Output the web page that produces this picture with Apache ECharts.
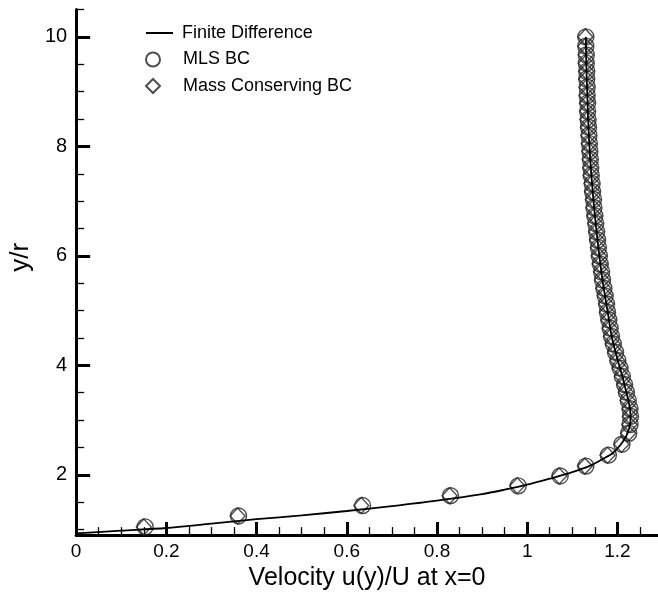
<!DOCTYPE html>
<html>
<head>
<meta charset="utf-8">
<script src="https://cdn.jsdelivr.net/npm/echarts@6/dist/echarts.min.js"></script>
<style>
html,body{margin:0;padding:0;background:#fff;}
#chart{width:658px;height:596px;}
</style>
</head>
<body>
<div id="chart"></div>
<script>
// Finite Difference curve (x = u/U, y = y/r)
var fdX = [0.0, 0.1, 0.2, 0.3, 0.4, 0.5, 0.6, 0.7, 0.8, 0.9, 0.95, 1.0, 1.05, 1.1, 1.14, 1.17, 1.19, 1.207, 1.219, 1.226, 1.229, 1.228, 1.223, 1.217, 1.211, 1.204, 1.188, 1.178, 1.168, 1.16, 1.153, 1.147, 1.142, 1.138, 1.135, 1.133, 1.131, 1.13];
var fdY = [0.93, 0.98, 1.03, 1.11, 1.19, 1.26, 1.34, 1.43, 1.53, 1.65, 1.73, 1.82, 1.93, 2.05, 2.17, 2.3, 2.4, 2.55, 2.7, 2.85, 3.0, 3.2, 3.4, 3.6, 3.8, 4.0, 4.5, 5.0, 5.5, 6.0, 6.5, 7.0, 7.5, 8.0, 8.5, 9.0, 9.5, 10.0];

// MLS BC markers
var mlsX = [0.153, 0.36, 0.635, 0.83, 0.98, 1.073, 1.13, 1.18, 1.21, 1.225,
  1.228, 1.229, 1.228, 1.224, 1.220, 1.216, 1.211, 1.206, 1.201, 1.196,
  1.191, 1.187, 1.184, 1.181, 1.178, 1.176, 1.173, 1.170, 1.167, 1.165,
  1.162, 1.160, 1.158, 1.156, 1.154, 1.152, 1.150, 1.148, 1.147, 1.145,
  1.144, 1.142, 1.141, 1.140, 1.139, 1.138, 1.137, 1.136, 1.135, 1.134,
  1.134, 1.133, 1.133, 1.132, 1.132, 1.131, 1.131, 1.130, 1.130];
var mlsY = [1.05, 1.25, 1.44, 1.62, 1.80, 1.98, 2.16, 2.36, 2.56, 2.76,
  2.92, 3.07, 3.21, 3.36, 3.51, 3.65, 3.80, 3.95, 4.09, 4.24,
  4.39, 4.53, 4.68, 4.83, 4.97, 5.12, 5.27, 5.41, 5.56, 5.71,
  5.85, 6.00, 6.15, 6.29, 6.44, 6.59, 6.73, 6.88, 7.03, 7.17,
  7.32, 7.47, 7.61, 7.76, 7.91, 8.05, 8.20, 8.35, 8.49, 8.64,
  8.79, 8.93, 9.08, 9.23, 9.37, 9.52, 9.67, 9.83, 10.0];

// Mass Conserving BC markers
var mcX = [0.150, 0.358, 0.632, 0.828, 0.978, 1.071, 1.128, 1.178, 1.209, 1.224,
  1.227, 1.228, 1.227, 1.223, 1.219, 1.215, 1.210, 1.205, 1.200, 1.195,
  1.190, 1.186, 1.183, 1.180, 1.177, 1.175, 1.172, 1.169, 1.166, 1.164,
  1.161, 1.159, 1.157, 1.155, 1.153, 1.151, 1.149, 1.147, 1.146, 1.144,
  1.143, 1.141, 1.140, 1.139, 1.138, 1.137, 1.136, 1.135, 1.134, 1.133,
  1.133, 1.132, 1.132, 1.131, 1.131, 1.130, 1.130, 1.129, 1.129];
var mcY = mlsY.slice();

// Axis ticks and labels
var xMajor = [0, 0.2, 0.4, 0.6, 0.8, 1, 1.2];
var xMinor = [0.05, 0.1, 0.15, 0.25, 0.3, 0.35, 0.45, 0.5, 0.55, 0.65, 0.7, 0.75, 0.85, 0.9, 0.95, 1.05, 1.1, 1.15, 1.25];
var yMajor = [2, 4, 6, 8, 10];
var yMinor = [1, 1.5, 2.5, 3, 3.5, 4.5, 5, 5.5, 6.5, 7, 7.5, 8.5, 9, 9.5, 10.5];

function zip(a, b) { var r = []; for (var i = 0; i < a.length; i++) r.push([a[i], b[i]]); return r; }

var FONT = 'Liberation Sans, Arial, sans-serif';
var XMIN = 0, XMAX = 1.29, YMIN = 0.9, YMAX = 10.5;
var legendText = {fontFamily: FONT, fontSize: 18, color: '#000'};

var chart = echarts.init(document.getElementById('chart'), null, {renderer: 'canvas'});
chart.setOption({
  animation: false,
  backgroundColor: '#fff',
  grid: {left: 76, right: 0, top: 9.5, bottom: 52, containLabel: false},
  legend: [{
    orient: 'vertical', left: 141, top: 19, itemWidth: 27, itemHeight: 14,
    textStyle: Object.assign({padding: [0, 0, 0, 4]}, legendText),
    data: [{name: 'Finite Difference', icon: 'path://M0,0h27v2h-27z'}]
  }, {
    orient: 'vertical', left: 140, top: 45.5, itemWidth: 14, itemHeight: 14,
    textStyle: Object.assign({padding: [0, 0, 0, 18]}, legendText),
    data: ['MLS BC']
  }, {
    orient: 'vertical', left: 140, top: 72, itemWidth: 14, itemHeight: 14,
    textStyle: Object.assign({padding: [0, 0, 0, 18]}, legendText),
    data: ['Mass Conserving BC']
  }],
  xAxis: [{
    type: 'value', position: 'bottom', min: XMIN, max: XMAX,
    name: 'Velocity u(y)/U at x=0', nameLocation: 'middle', nameGap: 22,
    nameTextStyle: {fontFamily: FONT, fontSize: 25, color: '#000'},
    axisLine: {show: true, lineStyle: {color: '#000', width: 3}},
    axisTick: {show: true, inside: true, length: 13, lineStyle: {color: '#000', width: 3}, customValues: xMajor},
    axisLabel: {show: true, margin: 7, fontFamily: FONT, fontSize: 19, color: '#000', customValues: xMajor,
      formatter: function (v) { return String(v); }},
    splitLine: {show: false}
  }, {
    type: 'value', position: 'bottom', min: XMIN, max: XMAX,
    axisLine: {show: false},
    axisTick: {show: true, inside: true, length: 8, lineStyle: {color: '#000', width: 1.3}, customValues: xMinor},
    axisLabel: {show: false},
    splitLine: {show: false}
  }],
  yAxis: [{
    type: 'value', position: 'left', min: YMIN, max: YMAX,
    name: 'y/r', nameLocation: 'middle', nameGap: 38,
    nameTextStyle: {fontFamily: FONT, fontSize: 26, color: '#000', padding: [0, 0, 0, 30]},
    axisLine: {show: true, lineStyle: {color: '#000', width: 3}},
    axisTick: {show: true, inside: true, length: 14, lineStyle: {color: '#000', width: 3}, customValues: yMajor},
    axisLabel: {show: true, margin: 9, fontFamily: FONT, fontSize: 20, color: '#000', customValues: yMajor},
    splitLine: {show: false}
  }, {
    type: 'value', position: 'left', min: YMIN, max: YMAX,
    axisLine: {show: false},
    axisTick: {show: true, inside: true, length: 8, lineStyle: {color: '#000', width: 1.3}, customValues: yMinor},
    axisLabel: {show: false},
    splitLine: {show: false}
  }],
  series: [{
    name: 'Finite Difference', type: 'line', xAxisIndex: 0, yAxisIndex: 0,
    data: zip(fdX, fdY), showSymbol: false, symbol: 'none', smooth: 0.3,
    lineStyle: {color: '#000', width: 1.8}, itemStyle: {color: '#000'}, z: 5
  }, {
    name: 'MLS BC', type: 'scatter', xAxisIndex: 0, yAxisIndex: 0,
    data: zip(mlsX, mlsY), symbol: 'circle', symbolSize: 16,
    itemStyle: {color: 'rgba(0,0,0,0)', borderColor: '#222', borderWidth: 1.4}, z: 3
  }, {
    name: 'Mass Conserving BC', type: 'scatter', xAxisIndex: 0, yAxisIndex: 0,
    data: zip(mcX, mcY), symbol: 'diamond', symbolSize: [15, 16],
    itemStyle: {color: 'rgba(0,0,0,0)', borderColor: '#222', borderWidth: 1.4}, z: 4
  }]
});
</script>
</body>
</html>
